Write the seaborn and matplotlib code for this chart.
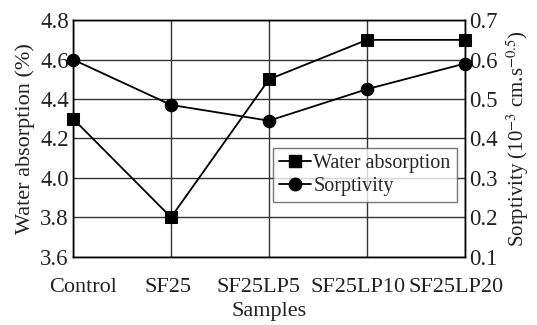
import matplotlib
matplotlib.use("Agg")
import matplotlib.pyplot as plt
import matplotlib.transforms as mtransforms
import seaborn as sns
import pandas as pd
from matplotlib.lines import Line2D

samples = ["Control", "SF25", "SF25LP5", "SF25LP10", "SF25LP20"]
water_absorption = [4.3, 3.8, 4.5, 4.7, 4.7]
sorptivity = [0.60, 0.485, 0.445, 0.525, 0.59]

sns.set_theme(style="white")
plt.rcParams['font.family'] = ['Liberation Serif', 'DejaVu Serif']
plt.rcParams['mathtext.fontset'] = 'stix'

df = pd.DataFrame({"x": range(len(samples)), "wa": water_absorption, "s": sorptivity})

fig, ax = plt.subplots(figsize=(5.37, 3.25), dpi=100)
fig.subplots_adjust(left=0.136, right=0.866, top=0.938, bottom=0.21)

sns.lineplot(data=df, x="x", y="wa", ax=ax, color="black", marker="s", markersize=8,
             linewidth=1.3, markeredgecolor="black", markerfacecolor="black", clip_on=False, zorder=5)
ax2 = ax.twinx()
sns.lineplot(data=df, x="x", y="s", ax=ax2, color="black", marker="o", markersize=9,
             linewidth=1.3, markeredgecolor="black", markerfacecolor="black", clip_on=False, zorder=5)

ax.set_xlim(0, 4)
ax.set_ylim(3.6, 4.8)
ax2.set_ylim(0.1, 0.7)
ax.set_yticks([3.6, 3.8, 4.0, 4.2, 4.4, 4.6, 4.8])
ax.set_yticklabels(["3.6", "3.8", "4.0", "4.2", "4.4", "4.6", "4.8"])
ax2.set_yticks([0.1, 0.2, 0.3, 0.4, 0.5, 0.6, 0.7])
ax2.set_yticklabels(["0.1", "0.2", "0.3", "0.4", "0.5", "0.6", "0.7"])
ax.set_xticks(range(len(samples)))
ax.set_xticklabels(samples)

ax.grid(True, color="#333333", linewidth=1.0)
ax.set_axisbelow(True)
for a in (ax, ax2):
    for sp in a.spines.values():
        sp.set_color("black")
        sp.set_linewidth(1.0)
    a.tick_params(length=0, labelsize=16.5, colors="#222222", pad=3)
ax.tick_params(axis="x", pad=15, labelsize=16)

# small horizontal nudges of the category labels, as in the reference
nudges_px = [10, -3, -11, -9, -9]
for lbl, dx in zip(ax.get_xticklabels(), nudges_px):
    lbl.set_transform(lbl.get_transform() + mtransforms.ScaledTranslation(dx / 100, 0, fig.dpi_scale_trans))

ax.set_xlabel("Samples", fontsize=16, color="#222222", labelpad=4)
ax.set_ylabel("Water absorption (%)", fontsize=16, color="#222222", labelpad=4)
ax2.set_ylabel(r"Sorptivity (10$^{-3}$ cm.s$^{-0.5}$)", fontsize=15, color="#222222", labelpad=5)

handles = [Line2D([], [], color="black", marker="s", markersize=8, linewidth=1.3),
           Line2D([], [], color="black", marker="o", markersize=9, linewidth=1.3)]
leg = ax2.legend(handles, ["Water absorption", "Sorptivity"], loc="center left",
                 bbox_to_anchor=(0.51, 0.345), fontsize=14.5, frameon=True, fancybox=False,
                 edgecolor="#555555", handlelength=1.6, handletextpad=0.1,
                 borderpad=0.3, labelspacing=0.2, borderaxespad=0)
leg.get_frame().set_linewidth(1.0)
leg.set_zorder(10)

fig.savefig("out.png", dpi=100)
